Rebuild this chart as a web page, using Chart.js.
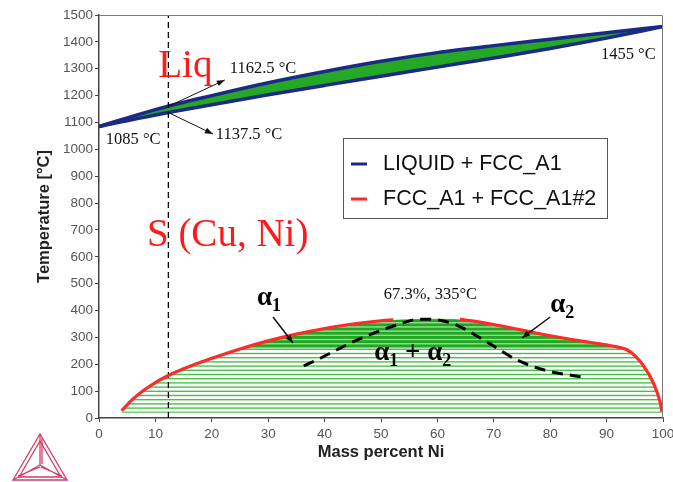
<!DOCTYPE html>
<html>
<head>
<meta charset="utf-8">
<script src="https://cdn.jsdelivr.net/npm/chart.js@4.4.1/dist/chart.umd.min.js"></script>
<style>
  body { margin: 0; background: #fff; }
  #wrap { width: 673px; height: 482px; }
</style>
</head>
<body>
<div id="wrap"><canvas id="myChart"></canvas></div>
<script>
// liquidus / solidus of Cu-Ni
let liqNi = [0, 10, 20, 30, 40, 50, 60, 70, 80, 90, 100];
let liqT = [1085, 1148, 1200, 1248, 1290, 1328, 1360, 1386, 1410, 1434, 1457];
let solNi = [0, 10, 20, 30, 40, 50, 60, 70, 80, 90, 100];
let solT = [1085, 1128, 1166, 1203, 1238, 1272, 1306, 1340, 1375, 1414, 1457];

// miscibility gap FCC_A1 + FCC_A1#2
let gapNi = [4, 6, 8, 10, 12.3, 15, 20, 25, 30, 35, 40, 45, 50, 52.2, 55, 58, 61, 64, 67, 70, 75, 80, 85, 90, 92, 93.6, 95, 96.5, 98.3, 99.5, 99.8];
let gapT = [27, 70, 104, 132, 158, 183, 222, 257, 287, 312, 333, 350, 362, 365, 368, 369, 369, 367, 359, 348, 327, 306, 288, 272, 264, 254, 232, 196, 130, 58, 23];
let gapBreak = [52.2, 64];   // red line is missing between these
let gapBase = 20;

// spinodal (dashed)
let spinNi = [36.3, 39.2, 42.1, 45.1, 48.6, 52.8, 56.9, 60, 63.4, 68.7, 74.1, 79.4, 86.2];
let spinT = [194, 222, 253, 284, 315, 346, 368, 365, 346, 284, 216, 176, 151];

let sectionNi = 12.3;
let xTicks = [0, 10, 20, 30, 40, 50, 60, 70, 80, 90, 100];
let yTicks = [0, 100, 200, 300, 400, 500, 600, 700, 800, 900, 1000, 1100, 1200, 1300, 1400, 1500];

let legendLabels = ['LIQUID + FCC_A1', 'FCC_A1 + FCC_A1#2'];
let navy = '#1b2a85';
let red = '#ff2a2a';

let pts = (xs, ys) => xs.map((x, i) => ({x: x, y: ys[i]}));

let ctx = document.getElementById('myChart').getContext('2d');

// striped tie-line texture for the gap
let pc = document.createElement('canvas');
pc.width = 8; pc.height = 482;
let p = pc.getContext('2d');
for (let y = 0; y < 482; y += 4.2) {
    let dense = y < 345;
    p.fillStyle = dense ? '#8fd88f' : '#ffffff';
    p.fillRect(0, y, 8, 4.2);
    p.fillStyle = dense ? '#1fa81f' : '#4cc04c';
    p.fillRect(0, y, 8, dense ? 2.8 : 1.4);
}
let stripes = ctx.createPattern(pc, 'repeat');

let sectionLine = [{x: sectionNi, y: 0}, {x: sectionNi, y: 1500}];
let redLine = gapNi.map((x, i) => ({x: x, y: (x > gapBreak[0] && x < gapBreak[1]) ? null : gapT[i]}));

function arrow(c, x1, y1, x2, y2) {
    c.beginPath(); c.moveTo(x1, y1); c.lineTo(x2, y2); c.stroke();
    let a = Math.atan2(y2 - y1, x2 - x1);
    c.beginPath();
    c.moveTo(x2, y2);
    c.lineTo(x2 - 8 * Math.cos(a) + 3 * Math.sin(a), y2 - 8 * Math.sin(a) - 3 * Math.cos(a));
    c.lineTo(x2 - 8 * Math.cos(a) - 3 * Math.sin(a), y2 - 8 * Math.sin(a) + 3 * Math.cos(a));
    c.closePath(); c.fill();
}

function alphaText(c, parts, x, y) {
    let cx = x;
    parts.forEach(pt => {
        c.font = pt.sub ? 'bold 18px "Liberation Serif"' : 'bold 27px "Liberation Serif"';
        c.fillText(pt.t, cx, y + (pt.sub ? 6 : 0));
        cx += c.measureText(pt.t).width;
    });
}

let notes = {
    id: 'notes',
    afterDatasetsDraw(chart) {
        let c = chart.ctx, a = chart.chartArea;
        let sx = chart.scales.x, sy = chart.scales.y;
        let X = v => sx.getPixelForValue(v), Y = v => sy.getPixelForValue(v);
        c.save();

        // top and right frame
        c.strokeStyle = '#7a7a7a'; c.lineWidth = 1;
        c.beginPath();
        c.moveTo(a.left, a.top + 0.5); c.lineTo(a.right - 0.5, a.top + 0.5); c.lineTo(a.right - 0.5, a.bottom);
        c.stroke();

        c.textBaseline = 'alphabetic';
        c.fillStyle = '#ff1a1a';
        c.font = '39px "Liberation Serif"';
        c.fillText('Liq', X(10.5), Y(1269));
        c.fillText('S (Cu, Ni)', X(8.5), Y(640));

        c.fillStyle = '#111';
        c.font = '16.5px "Liberation Serif"';
        c.fillText('1162.5 \u00B0C', X(23.2), Y(1284));
        c.fillText('1137.5 \u00B0C', X(20.7), Y(1038));
        c.fillText('1085 \u00B0C', X(1.2), Y(1020));
        c.fillText('1455 \u00B0C', X(89.0), Y(1336));
        c.fillText('67.3%, 335\u00B0C', X(50.5), Y(443));

        c.strokeStyle = '#111'; c.lineWidth = 1;
        arrow(c, X(12.3), Y(1160), X(22.3), Y(1258));
        arrow(c, X(12.3), Y(1137), X(20.2), Y(1057));
        c.lineWidth = 1.5;
        arrow(c, X(30.85), Y(376), X(34.4), Y(279));
        arrow(c, X(80.0), Y(376), X(75.0), Y(298));

        c.fillStyle = '#000';
        alphaText(c, [{t: '\u03B1'}, {t: '1', sub: true}], X(28.0), Y(421));
        alphaText(c, [{t: '\u03B1'}, {t: '2', sub: true}], X(80.0), Y(394));
        alphaText(c, [{t: '\u03B1'}, {t: '1', sub: true}, {t: ' + '}, {t: '\u03B1'}, {t: '2', sub: true}], X(48.8), Y(216));

        // legend box
        c.fillStyle = '#fff'; c.strokeStyle = '#555'; c.lineWidth = 1;
        c.fillRect(343, 138, 264, 80);
        c.strokeRect(343.5, 138.5, 264, 80);
        [navy, red].forEach((col, i) => {
            let ly = 164 + i * 35;
            c.strokeStyle = col; c.lineWidth = 3;
            c.beginPath(); c.moveTo(351, ly); c.lineTo(367, ly); c.stroke();
            c.fillStyle = '#111';
            c.font = '21.5px "Liberation Sans"';
            c.textBaseline = 'middle';
            c.fillText(legendLabels[i], 383, ly);
        });

        // Thermo-Calc logo
        c.strokeStyle = '#d83a62'; c.lineWidth = 1.3;
        let tri = (ax, ay, bx, by, cx, cy) => { c.beginPath(); c.moveTo(ax, ay); c.lineTo(bx, by); c.lineTo(cx, cy); c.closePath(); c.stroke(); };
        tri(40, 434, 13, 480, 67, 480);
        tri(40, 441, 19, 477, 61, 477);
        c.beginPath();
        c.moveTo(40, 434); c.lineTo(40, 465);
        c.moveTo(42, 438); c.lineTo(42, 464);
        c.moveTo(13, 480); c.lineTo(40, 465);
        c.moveTo(18, 476); c.lineTo(40, 467);
        c.moveTo(67, 480); c.lineTo(40, 465);
        c.moveTo(62, 476); c.lineTo(41, 467);
        c.stroke();
        c.restore();
    }
};

let chart = new Chart(ctx, {
    type: 'scatter',
    data: {
        datasets: [
            {
                label: 'gap line',
                data: redLine,
                showLine: true,
                borderColor: red,
                borderWidth: 3.2,
                pointRadius: 0,
                cubicInterpolationMode: 'monotone',
                spanGaps: false,
                fill: false
            },
            {
                label: 'spinodal',
                data: pts(spinNi, spinT),
                showLine: true,
                borderColor: '#000',
                borderWidth: 3,
                borderDash: [11, 7],
                pointRadius: 0,
                cubicInterpolationMode: 'monotone',
                fill: false
            },
            {
                label: 'section',
                data: sectionLine,
                showLine: true,
                borderColor: '#000',
                borderWidth: 1.3,
                borderDash: [6, 4],
                pointRadius: 0,
                fill: false
            },
            {
                label: legendLabels[0],
                data: pts(liqNi, liqT),
                showLine: true,
                borderColor: navy,
                borderWidth: 3.5,
                pointRadius: 0,
                cubicInterpolationMode: 'monotone',
                fill: false
            },
            {
                label: 'solidus',
                data: pts(solNi, solT),
                showLine: true,
                borderColor: navy,
                borderWidth: 3.5,
                pointRadius: 0,
                cubicInterpolationMode: 'monotone',
                backgroundColor: '#25a825',
                fill: '-1'
            },
            {
                label: legendLabels[1],
                data: pts(gapNi, gapT),
                showLine: true,
                borderWidth: 0,
                borderColor: 'rgba(0,0,0,0)',
                pointRadius: 0,
                cubicInterpolationMode: 'monotone',
                backgroundColor: stripes,
                fill: {value: gapBase}
            }
        ]
    },
    options: {
        responsive: true,
        maintainAspectRatio: false,
        animation: false,
        layout: { padding: { top: 15, right: 10, left: 0, bottom: 0 } },
        plugins: {
            legend: { display: false },
            tooltip: { enabled: false }
        },
        scales: {
            x: {
                type: 'linear',
                min: 0, max: 100,
                afterFit(s) { s.height = 64; s.paddingRight = 0; s.paddingLeft = 0; },
                afterBuildTicks(s) { s.ticks = xTicks.map(v => ({value: v})); },
                ticks: { color: '#555', font: { family: 'Liberation Sans', size: 13.5 }, padding: 4, maxRotation: 0,
                    callback: v => String(v) },
                grid: { drawOnChartArea: false, drawTicks: true, tickLength: 4, color: '#444' },
                border: { color: '#444', width: 1.5 },
                title: { display: true, text: 'Mass percent Ni', color: '#222',
                    font: { family: 'Liberation Sans', size: 16.5, weight: 'bold' }, padding: { bottom: 20 } }
            },
            y: {
                min: 0, max: 1500,
                afterFit(s) { s.width = 99; s.paddingTop = 0; },
                afterBuildTicks(s) { s.ticks = yTicks.map(v => ({value: v})); },
                ticks: { color: '#555', font: { family: 'Liberation Sans', size: 13.5 }, padding: 2,
                    callback: v => String(v) },
                grid: { drawOnChartArea: false, drawTicks: true, tickLength: 4, color: '#444' },
                border: { color: '#444', width: 1.5 },
                title: { display: true, text: 'Temperature [\u00B0C]', color: '#222',
                    font: { family: 'Liberation Sans', size: 16.5, weight: 'bold' }, padding: { top: 35 } }
            }
        }
    },
    plugins: [notes]
});
</script>
</body>
</html>
